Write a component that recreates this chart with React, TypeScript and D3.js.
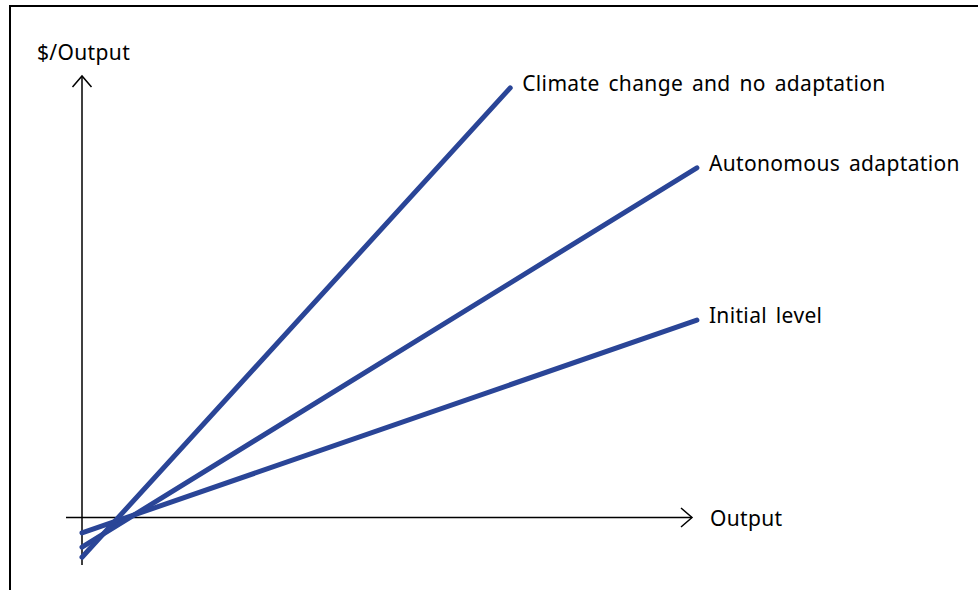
import React from "react";
import * as d3 from "d3";

const seriesNames = ["Initial level", "Autonomous adaptation", "Climate change and no adaptation"];
const startX = [0, 0, 0];
const startY = [-3.5, -6.7, -9.0];
const endX = [100.8, 100.8, 70.2];
const endY = [44.7, 79.2, 97.3];
const axisLabels = ["$/Output", "Output"];

const W = 978;
const H = 590;
const color = "#2a4597";
const font = "'Noto Sans', Lato, sans-serif";

export default function App() {
  const x = d3.scaleLinear().domain([0, 100]).range([82, 692]);
  const y = d3.scaleLinear().domain([0, 100]).range([517.5, 76]);
  const line = d3.line<[number, number]>().x((d) => x(d[0])).y((d) => y(d[1]));
  const ts = { fontFamily: font, fontSize: 21, fill: "#000", letterSpacing: "0.35px", wordSpacing: "3px" } as const;

  return (
    <svg width={W} height={H} style={{ position: "absolute", left: 0, top: 0 }}>
      <rect width={W} height={H} fill="#fff" />
      <path d={`M10,${H + 5} L10,6 L${W + 5},6`} fill="none" stroke="#000" strokeWidth={2} />
      <line x1={x(0)} y1={565} x2={x(0)} y2={y(100)} stroke="#000" strokeWidth={1.5} />
      <path d={`M${x(0) - 9.5},${y(100) + 11} L${x(0)},${y(100)} L${x(0) + 9.5},${y(100) + 11}`} fill="none" stroke="#000" strokeWidth={1.5} />
      <line x1={66} y1={y(0)} x2={x(100)} y2={y(0)} stroke="#000" strokeWidth={1.5} />
      <path d={`M${x(100) - 11},${y(0) - 9.5} L${x(100)},${y(0)} L${x(100) - 11},${y(0) + 9.5}`} fill="none" stroke="#000" strokeWidth={1.5} />
      {seriesNames.map((n, i) => (
        <path
          key={n}
          d={line([[startX[i], startY[i]], [endX[i], endY[i]]]) || ""}
          fill="none"
          stroke={color}
          strokeWidth={5}
          strokeLinecap="round"
        />
      ))}
      {seriesNames.map((n, i) => (
        <text key={"t" + n} x={x(endX[i]) + 12} y={y(endY[i]) + 3} {...ts}>
          {n}
        </text>
      ))}
      <text x={37} y={60} {...ts}>{axisLabels[0]}</text>
      <text x={710} y={y(0) + 8} {...ts}>{axisLabels[1]}</text>
    </svg>
  );
}
